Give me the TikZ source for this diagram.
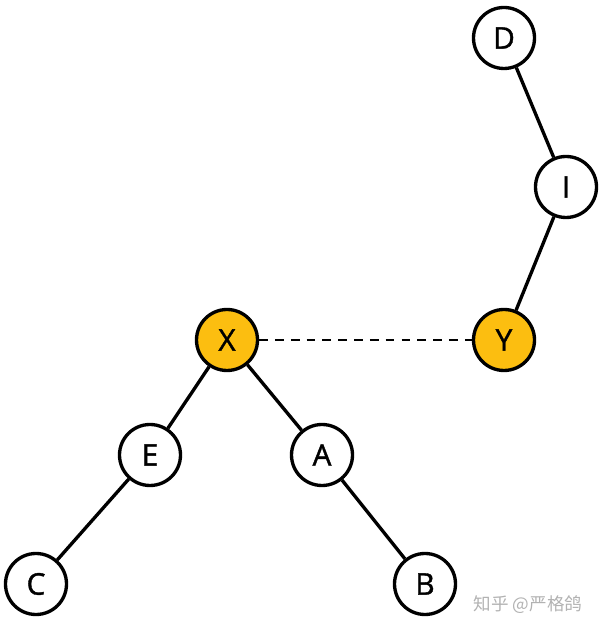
\documentclass[tikz,border=0pt]{standalone}
\usepackage{fontspec}
\setmainfont{Open Sans}
\newfontfamily\labelfont[FakeBold=1.3]{Open Sans}
\newfontfamily\cjk{Noto Sans CJK SC}
\usepackage{tikz}
\usetikzlibrary{positioning}
\definecolor{nodegold}{RGB}{252,190,16}

\begin{document}
\begin{tikzpicture}[
    vertex/.style={circle, draw=black, line width=1.9pt, fill=white,
                   minimum size=1.22cm, inner sep=0pt,
                   font=\labelfont\fontsize{17}{20}\selectfont},
    hot/.style={vertex, fill=nodegold},
    edge/.style={line width=1.9pt},
]
    \useasboundingbox (0,0) rectangle (12,12.62);

    % Right chain
    \node[vertex] (d) at (10.08,11.86) {D};
    \node[vertex] (i) at (11.32,8.88) {I};
    \node[hot] (y) at (10.08,5.82) {Y};

    % Left tree
    \node[hot] (x) at (4.54,5.82) {X};
    \node[vertex] (e) at (3.00,3.52) {E};
    \node[vertex] (a) at (6.44,3.52) {A};
    \node[vertex] (c) at (0.72,0.94) {C};
    \node[vertex] (b) at (8.50,0.94) {B};

    % Edges
    \draw[edge] (d) -- (i);
    \draw[edge] (i) -- (y);
    \draw[edge] (x) -- (e);
    \draw[edge] (x) -- (a);
    \draw[edge] (e) -- (c);
    \draw[edge] (a) -- (b);
    \draw[line width=1.3pt, dashed, dash pattern=on 5pt off 4pt] (x) -- (y);

    % Watermark
    \node[text=black!30, font=\cjk\fontsize{10}{12}\selectfont] (mark) at (10.56,0.52) {知乎 @严格鸽};
\end{tikzpicture}
\end{document}
